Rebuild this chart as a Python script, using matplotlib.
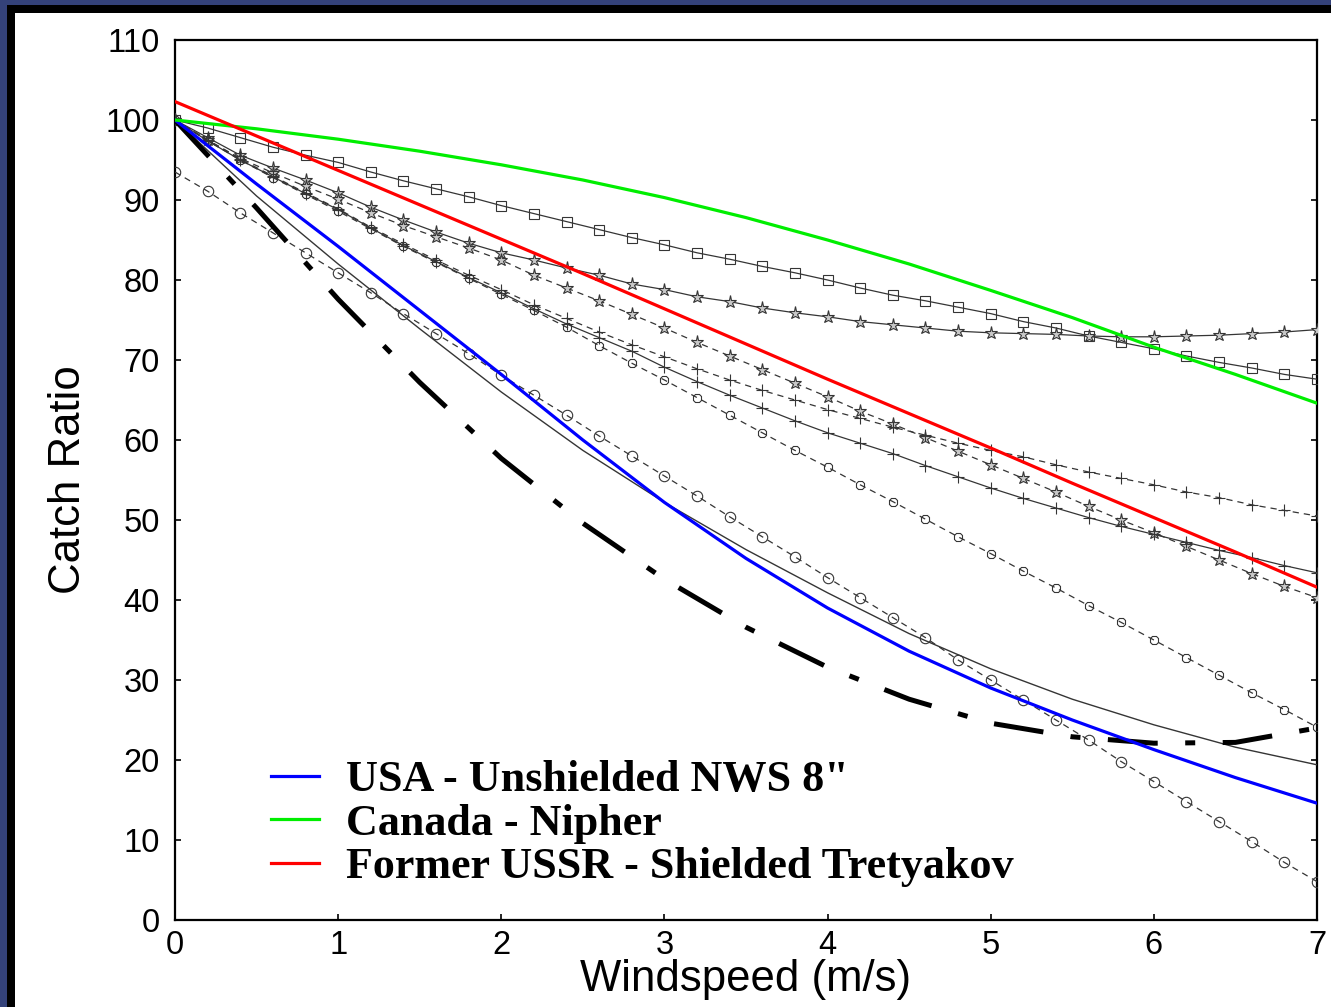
import numpy as np
import matplotlib
matplotlib.use("Agg")
import matplotlib.pyplot as plt
from matplotlib.patches import Rectangle

# ---------------- data ----------------
wind_marker = np.round(np.arange(0, 7.01, 0.2), 1)   # marker series sampled every 0.2 m/s
wind_smooth = np.arange(0, 7.01, 0.5)                # smooth curves sampled every 0.5 m/s

usa_unshielded = [100, 92, 84.2, 76.2, 68.2, 60.0, 52.2, 45.2, 39.0, 33.6, 29.0, 25.0, 21.3, 17.8, 14.6]
canada_nipher = [100, 98.9, 97.6, 96.1, 94.4, 92.5, 90.3, 87.8, 85.0, 82.0, 78.7, 75.3, 71.6, 68.2, 64.6]
ussr_tretyakov = [102.3, 98.0, 93.7, 89.4, 85.1, 80.8, 76.4, 72.0, 67.6, 63.3, 59.0, 54.6, 50.3, 46.0, 41.6]
thin_solid = [100, 90.5, 82, 73.9, 66, 58.7, 52.2, 46.3, 40.9, 35.8, 31.4, 27.6, 24.4, 21.6, 19.4]
dash_dot = [100, 89, 77.6, 67.2, 57.7, 49.6, 42.6, 36.6, 31.6, 27.6, 24.6, 22.9, 22.1, 22.2, 24.0]

squares_solid = [100, 99, 97.8, 96.6, 95.6, 94.7, 93.5, 92.4, 91.4, 90.4, 89.3, 88.3, 87.3, 86.3,
                 85.3, 84.4, 83.4, 82.6, 81.7, 80.9, 80.0, 79.0, 78.1, 77.4, 76.6, 75.8, 74.8, 74.0,
                 73.0, 72.2, 71.4, 70.5, 69.7, 69.0, 68.2, 67.6]
stars_solid = [100, 97.8, 95.6, 94.0, 92.5, 90.9, 89.1, 87.5, 86.0, 84.6, 83.4, 82.5, 81.5, 80.6,
               79.5, 78.8, 77.9, 77.3, 76.5, 75.9, 75.4, 74.8, 74.4, 74.0, 73.6, 73.4, 73.3, 73.2,
               73.0, 72.9, 72.9, 73.0, 73.1, 73.3, 73.5, 73.8]
stars_dashed = [100, 97.5, 95.2, 93.4, 91.7, 90.1, 88.4, 86.8, 85.4, 84.0, 82.5, 80.6, 79.0, 77.4,
                75.7, 74.0, 72.2, 70.5, 68.8, 67.1, 65.4, 63.6, 62.0, 60.3, 58.6, 56.9, 55.2, 53.5,
                51.7, 50.0, 48.4, 46.7, 45.0, 43.3, 41.7, 40.3]
plus_dashed = [100, 97.5, 95.1, 93.0, 90.9, 88.9, 86.6, 84.5, 82.5, 80.6, 78.8, 76.9, 75.2, 73.5,
               71.9, 70.4, 68.9, 67.5, 66.2, 65.0, 63.8, 62.7, 61.6, 60.6, 59.6, 58.7, 57.9, 56.9,
               56.0, 55.2, 54.4, 53.5, 52.8, 51.9, 51.2, 50.5]
plus_solid = [100, 97.4, 95.0, 92.9, 90.8, 88.8, 86.5, 84.3, 82.3, 80.3, 78.4, 76.4, 74.5, 72.8,
              71.1, 69.1, 67.3, 65.6, 64.0, 62.4, 60.9, 59.6, 58.3, 56.8, 55.4, 54.0, 52.7, 51.5,
              50.3, 49.2, 48.2, 47.2, 46.2, 45.3, 44.3, 43.4]
octagon_dashed = [100, 97.4, 95.0, 92.8, 90.7, 88.6, 86.4, 84.2, 82.2, 80.2, 78.2, 76.2, 74.1, 71.8,
                  69.6, 67.5, 65.3, 63.1, 60.9, 58.7, 56.6, 54.4, 52.3, 50.1, 47.9, 45.8, 43.6, 41.5,
                  39.3, 37.2, 35.0, 32.8, 30.6, 28.4, 26.3, 24.1]
circles_dashed = [93.5, 91.1, 88.4, 85.9, 83.4, 80.9, 78.4, 75.8, 73.3, 70.8, 68.1, 65.6, 63.1, 60.5,
                  58.0, 55.5, 53.0, 50.4, 47.9, 45.4, 42.8, 40.3, 37.8, 35.3, 32.5, 30.0, 27.5, 25.0,
                  22.5, 19.8, 17.3, 14.8, 12.3, 9.8, 7.2, 4.8]

legend_labels = ['USA - Unshielded NWS 8"', "Canada - Nipher", "Former USSR - Shielded Tretyakov"]
x_ticks = [0, 1, 2, 3, 4, 5, 6, 7]
y_ticks = [0, 10, 20, 30, 40, 50, 60, 70, 80, 90, 100, 110]

# ---------------- figure ----------------
W, H = 1331, 1007
fig = plt.figure(figsize=(W / 100, H / 100), dpi=100)
fig.patch.set_facecolor("#34427a")
fig.patches.append(Rectangle((7 / W, 0), 1, 1 - 5 / H, transform=fig.transFigure,
                             facecolor="black", edgecolor="none", zorder=-10))
fig.patches.append(Rectangle((15 / W, 0), 1, 1 - 13 / H, transform=fig.transFigure,
                             facecolor="white", edgecolor="none", zorder=-9))

ax = fig.add_axes([175 / W, 1 - 920 / H, (1317 - 175) / W, (920 - 40) / H])
ax.set_zorder(5)
ax.set_facecolor("white")

gray = "#353535"
lw_thin = 0.9
common = dict(color=gray, lw=lw_thin, markeredgecolor=gray, markeredgewidth=0.8, zorder=3)

ax.plot(wind_marker, squares_solid, ls="-", marker="s", ms=6.5, mfc="none", **common)
ax.plot(wind_marker, stars_solid, ls="-", marker="*", ms=9.5, mfc="#c8c8c8", **common)
ax.plot(wind_marker, stars_dashed, ls=(0, (5, 4)), marker="*", ms=9.5, mfc="#c8c8c8", **common)
ax.plot(wind_marker, plus_dashed, ls=(0, (5, 4)), marker="+", ms=9, **common)
ax.plot(wind_marker, plus_solid, ls="-", marker="+", ms=9, **common)
ax.plot(wind_marker, octagon_dashed, ls=(0, (5, 4)), marker="8", ms=7, mfc="none", **common)
ax.plot(wind_marker, circles_dashed, ls=(0, (5, 4)), marker="o", ms=7.5, mfc="none", **common)

ax.plot(wind_smooth, thin_solid, color=gray, lw=1.0, zorder=3)
ax.plot(wind_smooth, dash_dot, color="black", lw=3.6, ls=(0, (10, 5.5, 2, 5.5)),
        dash_capstyle="butt", zorder=4)

h1, = ax.plot(wind_smooth, usa_unshielded, color="#0000ff", lw=2.3, zorder=5)
h2, = ax.plot(wind_smooth, canada_nipher, color="#00ee00", lw=2.3, zorder=5)
h3, = ax.plot(wind_smooth, ussr_tretyakov, color="#ff0000", lw=2.3, zorder=5)

ax.set_xlim(0, 7)
ax.set_ylim(0, 110)
ax.set_xticks(x_ticks)
ax.set_yticks(y_ticks)

tick_font = dict(family="Liberation Sans", size=23.5)
ax.set_xticklabels([str(t) for t in x_ticks], **tick_font)
ax.set_yticklabels([str(t) for t in y_ticks], **tick_font)
ax.tick_params(axis="x", direction="in", length=4, width=1.2, pad=7, top=False)
ax.tick_params(axis="y", direction="in", length=4, width=1.2, pad=11, right=True)

for s in ax.spines.values():
    s.set_linewidth(1.6)
    s.set_color("black")

ax.set_xlabel("Windspeed (m/s)", family="Liberation Sans", size=31.5, labelpad=-1)
ax.set_ylabel("Catch Ratio", family="Liberation Sans", size=31.5, labelpad=12)

leg = ax.legend([h1, h2, h3], legend_labels, loc="lower left",
                bbox_to_anchor=(0.084, 0.037), frameon=False, borderpad=0, borderaxespad=0,
                handlelength=1.1, handletextpad=0.6, labelspacing=0.08,
                prop=dict(family="Liberation Serif", weight="bold", size=31.75))
for ln in leg.get_lines():
    ln.set_linewidth(2.3)

fig.savefig("out.png", dpi=100, facecolor=fig.get_facecolor())
